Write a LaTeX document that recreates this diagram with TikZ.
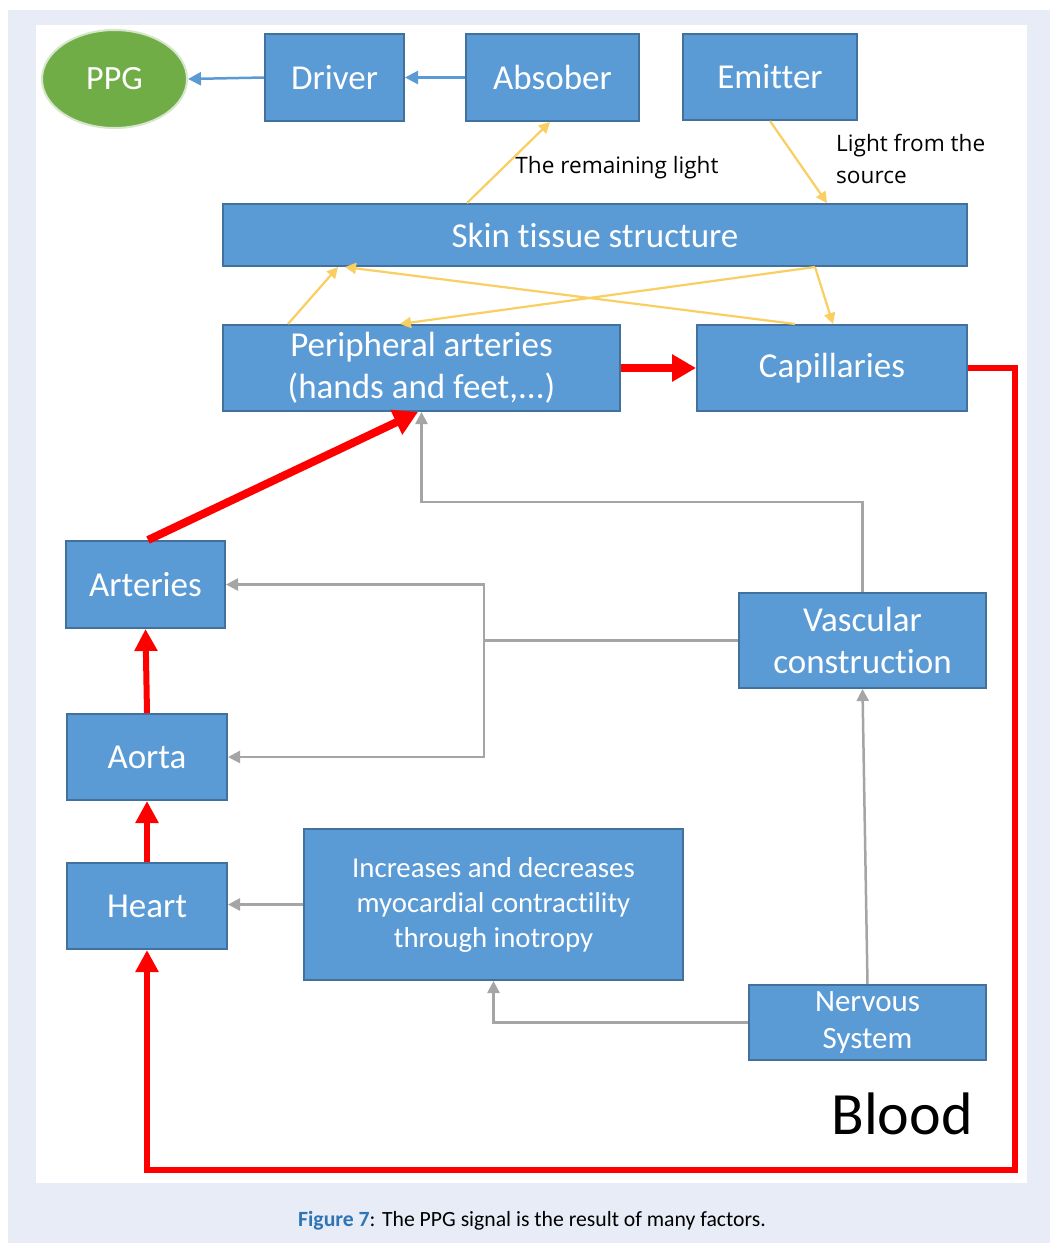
\documentclass[tikz,border=0pt]{standalone}
\usepackage{fontspec}
\setmainfont[Ligatures=NoCommon]{Carlito}
\newfontfamily\labelfont{Open Sans}
\usetikzlibrary{arrows.meta,shapes.geometric,calc}
\definecolor{pagebg}{HTML}{E7ECF6}
\definecolor{boxfill}{HTML}{5B9BD5}
\definecolor{boxline}{HTML}{41719C}
\definecolor{ppggreen}{HTML}{70AD47}
\definecolor{ppgline}{HTML}{D5E6CB}
\definecolor{lightyellow}{HTML}{F9CF62}
\definecolor{grayline}{HTML}{A5A5A5}
\definecolor{bluearrow}{HTML}{5B9BD5}
\definecolor{captionblue}{HTML}{2F75B5}
\definecolor{bloodred}{HTML}{FF0000}
\begin{document}
\begin{tikzpicture}[x=1pt,y=-1pt,
  box/.style={draw=boxline,line width=2pt,fill=boxfill,text=white,align=center,inner sep=0pt,font=\fontsize{35}{42}\selectfont},
  bluearr/.style={draw=bluearrow,line width=2.5pt,-{Triangle[length=13pt,width=13pt]}},
  yel/.style={draw=lightyellow,line width=2.2pt,-{Triangle[length=11pt,width=11pt]}},
  grayarr/.style={draw=grayline,line width=2.5pt,-{Triangle[length=12pt,width=12pt]}},
  redthick/.style={draw=bloodred,line width=8pt,-{Triangle[length=24pt,width=26pt]}},
  redmid/.style={draw=bloodred,line width=6pt,-{Triangle[length=22pt,width=22pt]}},
  lbl/.style={font=\labelfont\fontsize{22.6}{32}\selectfont,text=black,inner sep=0pt}
]
\useasboundingbox (0,0) rectangle (1058,1243);
\fill[white] (0,0) rectangle (1058,1243);
\fill[pagebg] (8,10) rectangle (1050,1243);
\fill[white] (36,25) rectangle (1027,1183);

% nodes
\node[ellipse,draw=ppgline,line width=2pt,fill=ppggreen,text=white,minimum width=145pt,minimum height=98pt,inner sep=0pt,font=\fontsize{34}{40}\selectfont] (ppg) at (114.5,79) {PPG};
\node[box,minimum width=139pt,minimum height=87pt] (driver) at (334.5,77.5) {Driver};
\node[box,minimum width=173pt,minimum height=87pt] (absober) at (552.5,77.5) {Absober};
\node[box,minimum width=174pt,minimum height=86pt] (emitter) at (770,77) {Emitter};
\node[box,minimum width=744pt,minimum height=62pt] (skin) at (595,235) {Skin tissue structure};
\node[box,minimum width=397pt,minimum height=86pt] (periph) at (421.5,368) {Peripheral arteries\\(hands and feet,...)};
\node[box,minimum width=270pt,minimum height=86pt] (cap) at (832,368) {Capillaries};
\node[box,minimum width=159pt,minimum height=87pt] (arteries) at (145.5,584.5) {Arteries};
\node[box,minimum width=160pt,minimum height=86pt] (aorta) at (147,757) {Aorta};
\node[box,minimum width=160pt,minimum height=86pt] (heart) at (147,906) {Heart};
\node[box,minimum width=247pt,minimum height=95pt] (vasc) at (862.5,640.5) {Vascular\\construction};
\node[box,minimum width=379pt,minimum height=151pt,font=\fontsize{28.8}{35}\selectfont] (incr) at (493.5,904.5) {Increases and decreases\\myocardial contractility\\through inotropy};
\node[box,minimum width=237pt,minimum height=75pt,font=\fontsize{31}{37}\selectfont] (nerv) at (867.5,1022.5) {Nervous\\System};

% labels
\node[lbl,anchor=center] (remlbl) at (617,168) {The remaining light};
\node[lbl,anchor=west,align=left] (srclbl) at (836,159) {Light from the\\source};
\node[font=\fontsize{60}{70}\selectfont,text=black,inner sep=0pt] (blood) at (902,1114) {Blood};

% blue arrows
\draw[bluearr] (driver.west) -- (ppg.east);
\draw[bluearr] (absober.west) -- (driver.east);

% yellow light arrows
\draw[yel] (467,0 |- skin.north) -- (550,0 |- absober.south);
\draw[yel] (770,0 |- emitter.south) -- (827,0 |- skin.north);
\draw[yel] (288,0 |- periph.north) -- (338,0 |- skin.south);
\draw[yel] (795,0 |- cap.north) -- (345,0 |- skin.south);
\draw[yel] (815,0 |- skin.south) -- (400,0 |- periph.north);
\draw[yel] (815,0 |- skin.south) -- (833,0 |- cap.north);

% red blood flow
\draw[redthick] (periph.east) -- (cap.west);
\draw[redmid] (cap.east) -- (1015,0 |- cap.east) -- (1015,1170) -- (heart.south |- 0,1170) -- (heart.south);
\draw[redthick] (148,0 |- arteries.north) -- (418,0 |- periph.south);
\draw[redmid] (aorta.north) -- (arteries.south);
\draw[redmid] (heart.north) -- (aorta.south);

% gray control arrows
\coordinate (junc) at (484,640.5);
\draw[draw=grayline,line width=2.5pt] (vasc.west) -- (junc);
\draw[grayarr] (junc) |- (arteries.east);
\draw[grayarr] (junc) |- (aorta.east);
\draw[grayarr] (vasc.north) -- (vasc.north |- 0,502) -| (periph.south);
\draw[grayarr] (nerv.north) -- (vasc.south);
\draw[grayarr] (nerv.west) -| (incr.south);
\draw[grayarr] (incr.west) -- (incr.west -| heart.east);

% caption
\node[font=\fontsize{21.7}{26}\selectfont,inner sep=0pt] (caption) at (532,1221) {\textcolor{captionblue}{\textbf{Figure 7}}: The PPG signal is the result of many factors.};
\end{tikzpicture}
\end{document}
